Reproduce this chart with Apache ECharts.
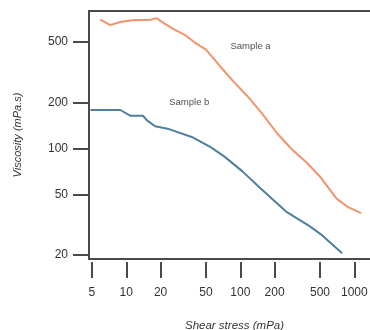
<!DOCTYPE html>
<html>
<head>
<meta charset="utf-8">
<script src="https://cdn.jsdelivr.net/npm/echarts@6/dist/echarts.min.js"></script>
<style>
html,body{margin:0;padding:0;background:#fff;}
#c{width:370px;height:330px;}
</style>
</head>
<body>
<div id="c"></div>
<script>
// Shear stress (mPa) and viscosity (mPa.s)
var sampleA_x = [5.92, 7.23, 8.87, 11.3, 16.5, 18.4, 21.2, 26.0, 33.2, 39.1, 50, 65.6, 86.3, 114, 151, 212, 283, 379, 506, 702, 871, 1146];
var sampleA_y = [702, 647, 678, 695, 702, 718, 669, 609, 553, 502, 446, 351, 277, 223, 174, 125, 98.8, 81.2, 64.7, 46.7, 41.4, 37.6];
var sampleB_x = [4.85, 8.87, 10.9, 14.0, 15.2, 17.9, 23.0, 37.5, 55.4, 72.7, 105, 151, 252, 402, 506, 782];
var sampleB_y = [179, 179, 164, 164, 153, 140, 135, 119, 101.6, 88.4, 70.5, 54.6, 38.5, 31.0, 27.4, 20.5];
var xTicks = [5, 10, 20, 50, 100, 200, 500, 1000];
var yTicks = [20, 50, 100, 200, 500];
var labelNames = ['Sample a', 'Sample b'];
var labelX = [123, 35.7];
var labelY = [466, 200];

function zip(a, b) { return a.map(function (v, i) { return [v, b[i]]; }); }

var chart = echarts.init(document.getElementById('c'), null, { renderer: 'canvas' });
var axisColor = '#4a4a4a';
var font = 'Liberation Sans, Arial, sans-serif';
var X_MIN = 4.71, X_MAX = 1680;
function frameAxis(pos) {
  return {
    type: 'log', min: X_MIN, max: X_MAX, position: pos,
    axisLine: { show: true, lineStyle: { color: axisColor, width: 2 } },
    axisTick: { show: false }, axisLabel: { show: false }, splitLine: { show: false }, minorTick: { show: false }
  };
}
chart.setOption({
  animation: false,
  backgroundColor: '#ffffff',
  grid: { left: 89, top: 11, width: 291, height: 248, show: false,
    containLabel: false, outerBoundsMode: 'none' },
  xAxis: [{
    type: 'log', min: X_MIN, max: X_MAX, offset: 3, position: 'bottom',
    name: 'Shear stress (mPa)', nameLocation: 'middle', nameGap: 58,
    nameTextStyle: { fontFamily: font, fontSize: 11.5, fontStyle: 'italic', color: '#333' },
    axisLine: { show: false },
    axisTick: { show: true, length: 16, customValues: xTicks, lineStyle: { color: axisColor, width: 2 } },
    axisLabel: { customValues: xTicks, margin: 25, fontFamily: font, fontSize: 12, color: '#333',
      formatter: function (v) { return String(Math.round(v)); } },
    splitLine: { show: false }, minorTick: { show: false }
  }, frameAxis('bottom'), frameAxis('top')],
  yAxis: {
    type: 'log', min: 18.8, max: 800,
    name: 'Viscosity (mPa.s)', nameLocation: 'middle', nameGap: 66, nameRotate: 90,
    nameTextStyle: { fontFamily: font, fontSize: 11, fontStyle: 'italic', color: '#333' },
    axisLine: { show: true, lineStyle: { color: axisColor, width: 2 } },
    axisTick: { show: true, length: 16, customValues: yTicks, lineStyle: { color: axisColor, width: 2 } },
    axisLabel: { customValues: yTicks, margin: 21, fontFamily: font, fontSize: 12, color: '#333',
      formatter: function (v) { return String(Math.round(v)); } },
    splitLine: { show: false }, minorTick: { show: false }
  },
  series: [
    { name: 'Sample a', type: 'line', data: zip(sampleA_x, sampleA_y), showSymbol: false, symbol: 'none',
      lineStyle: { color: '#f0956b', width: 2 }, clip: true },
    { name: 'Sample b', type: 'line', data: zip(sampleB_x, sampleB_y), showSymbol: false, symbol: 'none',
      lineStyle: { color: '#4f7f9f', width: 2 }, clip: true },
    { type: 'scatter', symbolSize: 0, silent: true,
      data: labelNames.map(function (n, i) { return { value: [labelX[i], labelY[i]], name: n }; }),
      label: { show: true, position: 'inside', formatter: function (p) { return p.name; },
        fontFamily: font, fontSize: 9.5, color: '#1a1a1a' } }
  ]
});
</script>
</body>
</html>
